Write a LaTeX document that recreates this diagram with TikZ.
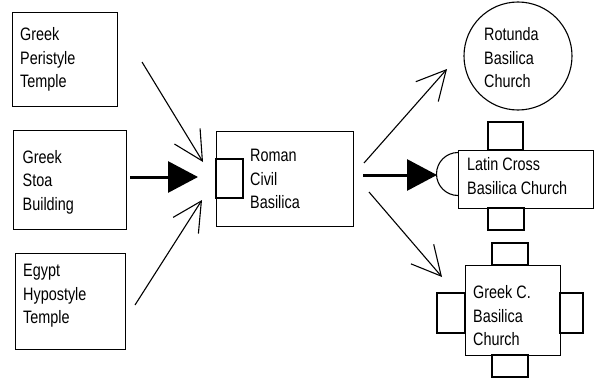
\documentclass[tikz,border=0pt]{standalone}
\usepackage{fontspec}
\setmainfont{Liberation Sans}[FakeStretch=0.8]
\usetikzlibrary{arrows.meta}
\begin{document}
\begin{tikzpicture}[x=1pt,y=-1pt,
  box/.style={draw, line width=1.1pt, rectangle, inner sep=0pt, anchor=north west},
  lbl/.style={anchor=west, inner sep=0pt, align=left, font=\fontsize{18}{23.5}\selectfont},
  thinarrow/.style={line width=1.1pt, -{Straight Barb[length=29pt,width=30pt]}},
  thickarrow/.style={line width=3pt, -{Triangle[length=30pt,width=31pt]}},
  part/.style={draw, line width=1.1pt}]
\useasboundingbox (0,0) rectangle (598,380);

% left boxes
\node[box, minimum width=105pt, minimum height=94pt] (gpt) at (12,12) {};
\node[lbl] (gptt) at (20,59.5) {Greek\\Peristyle\\Temple};
\node[box, minimum width=113pt, minimum height=99pt] (gsb) at (13,130) {};
\node[lbl] (gsbt) at (22.5,182) {Greek\\Stoa\\Building};
\node[box, minimum width=110pt, minimum height=96pt] (eht) at (15,253) {};
\node[lbl] (ehtt) at (23,296) {Egypt\\Hypostyle\\Temple};

% centre
\node[box, minimum width=137pt, minimum height=95pt] (rcb) at (216,131) {};
\draw[part] (216,159) rectangle (243,198);
\node[lbl] (rcbt) at (250,179) {Roman\\Civil\\Basilica};

% rotunda
\node[draw, line width=1.1pt, circle, minimum size=108pt, inner sep=0pt] (rot) at (518,56) {};
\node[lbl] (rott) at (484,58) {Rotunda\\Basilica\\Church};

% latin cross
\draw[part] (488,122) rectangle (523,150);
\draw[part] (488,208) rectangle (524,230);
\draw[part] (458,152.5) arc[start angle=90, end angle=270, radius=21.5pt];
\node[box, minimum width=135pt, minimum height=58pt] (lcb) at (458,150) {};
\node[lbl] (lcbt) at (467,176) {Latin Cross\\Basilica Church};

% greek cross
\draw[part] (492,243) rectangle (528,265);
\draw[part] (492,355) rectangle (528,377);
\draw[part] (437,293) rectangle (465,333);
\draw[part] (560,293) rectangle (583,333);
\node[box, minimum width=95pt, minimum height=90pt] (gcb) at (465,265) {};
\node[lbl] (gcbt) at (473,316) {Greek C.\\Basilica\\Church};

% arrow end points
\coordinate (a1s) at (142,62);  \coordinate (a1e) at (203,162);
\coordinate (a2s) at (130,177); \coordinate (a2e) at (198,177);
\coordinate (a3s) at (135,305); \coordinate (a3e) at (202,200);
\coordinate (b1s) at (364,163); \coordinate (b1e) at (447,69);
\coordinate (b2s) at (363,175); \coordinate (b2e) at (437,175);
\coordinate (b3s) at (369,192); \coordinate (b3e) at (442,277);

\draw[thinarrow] (a1s) -- (a1e);
\draw[thickarrow] (a2s) -- (a2e);
\draw[thinarrow] (a3s) -- (a3e);
\draw[thinarrow] (b1s) -- (b1e);
\draw[thickarrow] (b2s) -- (b2e);
\draw[thinarrow] (b3s) -- (b3e);
\end{tikzpicture}
\end{document}
